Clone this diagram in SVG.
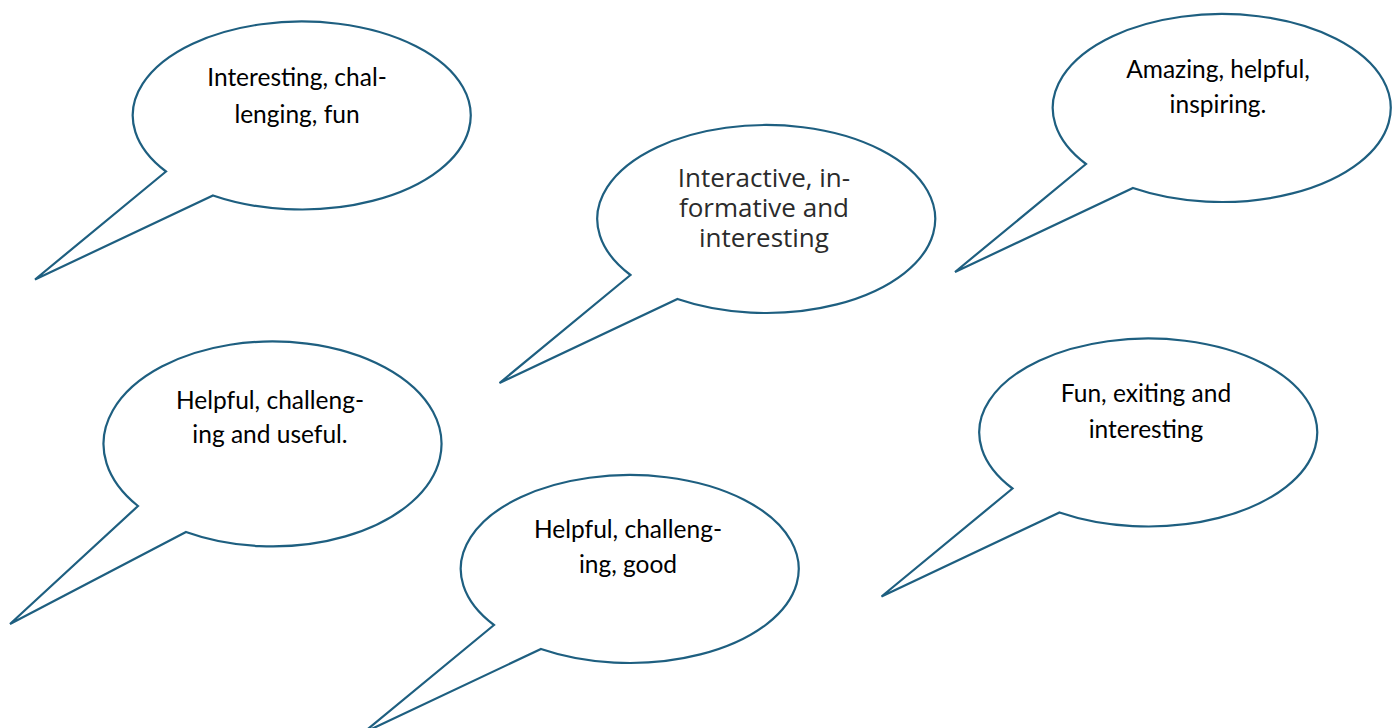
<svg xmlns="http://www.w3.org/2000/svg" xmlns:xlink="http://www.w3.org/1999/xlink" width="1392" height="728" viewBox="0 0 1392 728">
<style>
.b{fill:#fff;stroke:#1e5f80;stroke-width:2.2;stroke-linejoin:miter}
.t{font-family:Lato,"Open Sans","Liberation Sans",sans-serif;font-size:24.5px;fill:#000;text-anchor:middle}
.s{font-family:"Open Sans","Liberation Sans",sans-serif;font-size:26px;fill:#2b2b2b;text-anchor:middle}
</style>
<defs>
<path id="bubble" d="M -133 57 L -264 165 L -86 81 A 169 94 0 1 0 -133 57 Z"/>
</defs>
<rect width="1392" height="728" fill="#fff"/>
<g id="connectors"></g>
<g id="bubble1">
<use xlink:href="#bubble" href="#bubble" class="b" transform="translate(299,114.5)"/>
<text class="t" x="297" y="86">Interesting, chal-</text>
<text class="t" x="297" y="123">lenging, fun</text>
</g>
<g id="bubble2">
<use xlink:href="#bubble" href="#bubble" class="b" transform="translate(763.5,218)"/>
<text class="s" x="764" y="187">Interactive, in-</text>
<text class="s" x="764" y="217">formative and</text>
<text class="s" x="764" y="247">interesting</text>
</g>
<g id="bubble3">
<use xlink:href="#bubble" href="#bubble" class="b" transform="translate(1219,107)"/>
<text class="t" x="1218" y="78">Amazing, helpful,</text>
<text class="t" x="1218" y="113">inspiring.</text>
</g>
<g id="bubble4">
<path class="b" d="M 138 506 L 10 624 L 186 532 A 169 102.5 0 1 0 138 506 Z"/>
<text class="t" x="270" y="409">Helpful, challeng-</text>
<text class="t" x="270" y="443">ing and useful.</text>
</g>
<g id="bubble5">
<use xlink:href="#bubble" href="#bubble" class="b" transform="translate(627,568)"/>
<text class="t" x="628" y="538">Helpful, challeng-</text>
<text class="t" x="628" y="573">ing, good</text>
</g>
<g id="bubble6">
<use xlink:href="#bubble" href="#bubble" class="b" transform="translate(1145.5,431.5)"/>
<text class="t" x="1146" y="402">Fun, exiting and</text>
<text class="t" x="1146" y="438">interesting</text>
</g>
</svg>
